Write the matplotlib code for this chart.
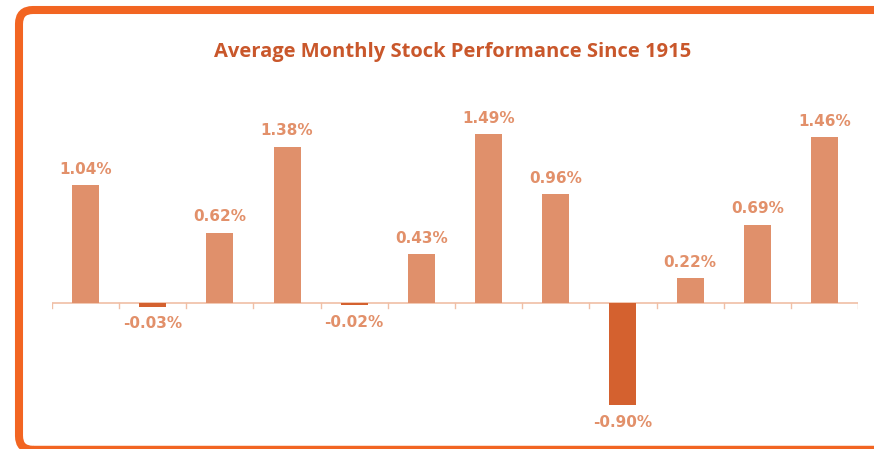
import matplotlib.pyplot as plt
from matplotlib.patches import FancyBboxPatch

months = ['Jan', 'Feb', 'Mar', 'Apr', 'May', 'Jun',
          'Jul', 'Aug', 'Sep', 'Oct', 'Nov', 'Dec']
avg_return = [1.04, -0.03, 0.62, 1.38, -0.02, 0.43,
              1.49, 0.96, -0.90, 0.22, 0.69, 1.46]
labels = [f'{v:.2f}%' for v in avg_return]

POS_COLOR = '#E0906B'
NEG_COLOR = '#D4612F'
LABEL_COLOR = '#E2906A'
AXIS_COLOR = '#F0BFA6'
FRAME_COLOR = '#F26522'

W, H = 874, 449
fig = plt.figure(figsize=(W / 100, H / 100), dpi=100)

# orange rounded frame, drawn in pixel coords (y up) on a background axes
bg = fig.add_axes([0, 0, 1, 1])
bg.set_xlim(0, W)
bg.set_ylim(0, H)
bg.axis('off')
frame = FancyBboxPatch((19, H - 449.8), 900, 439.8,
                       boxstyle='round,pad=0,rounding_size=14',
                       fill=False, edgecolor=FRAME_COLOR, linewidth=5.8,
                       clip_on=False)
bg.add_patch(frame)

# main chart
ax = fig.add_axes([52 / W, 1 - 420 / H, 806 / W, 320 / H])
x = list(range(len(months)))
colors = [POS_COLOR if v >= 0 else NEG_COLOR for v in avg_return]
ax.bar(x, avg_return, width=0.4, color=colors)

for xi, v, lab in zip(x, avg_return, labels):
    if v >= 0:
        ax.annotate(lab, (xi, v), xytext=(0, 6), textcoords='offset points',
                    ha='center', va='bottom', fontsize=11,
                    color=LABEL_COLOR, fontweight='bold')
    else:
        ax.annotate(lab, (xi, v), xytext=(0, -7), textcoords='offset points',
                    ha='center', va='top', fontsize=11,
                    color=LABEL_COLOR, fontweight='bold')

ax.set_xlim(-0.5, 11.5)
ax.set_ylim(-1.03, 1.79)
ax.axhline(0, color=AXIS_COLOR, linewidth=1.2, zorder=0)
for b in [i - 0.5 for i in range(13)]:
    ax.plot([b, b], [0, -0.04], color=AXIS_COLOR, linewidth=1.0)
ax.set_xticks([])
ax.set_yticks([])
for s in ax.spines.values():
    s.set_visible(False)
ax.patch.set_alpha(0)

fig.text(453 / W, 1 - 52 / H, 'Average Monthly Stock Performance Since 1915',
         ha='center', va='center', fontsize=14.5, fontweight='bold',
         color='#C9572B', family='Open Sans')

fig.savefig('out.png', dpi=100)
